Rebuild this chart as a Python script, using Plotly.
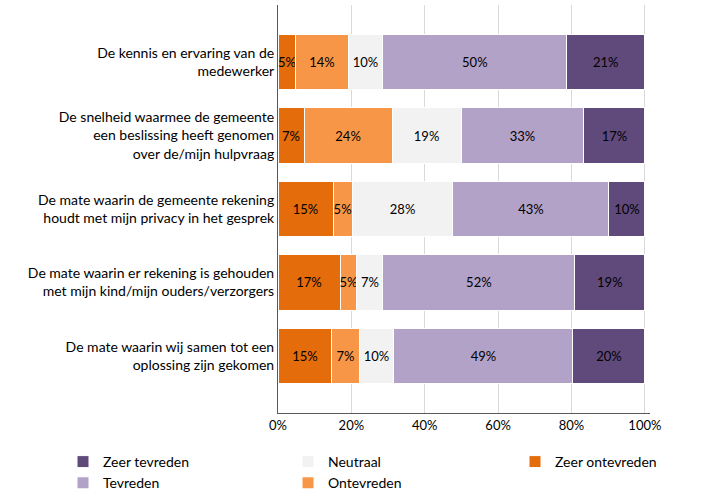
import plotly.graph_objects as go

categories = [
    "De kennis en ervaring van de<br>medewerker",
    "De snelheid waarmee de gemeente<br>een beslissing heeft genomen<br>over de/mijn hulpvraag",
    "De mate waarin de gemeente rekening<br>houdt met mijn privacy in het gesprek",
    "De mate waarin er rekening is gehouden<br>met mijn kind/mijn ouders/verzorgers",
    "De mate waarin wij samen tot een<br>oplossing zijn gekomen",
]

series_names = ["Zeer ontevreden", "Ontevreden", "Neutraal", "Tevreden", "Zeer tevreden"]
zeer_ontevreden = [4.9, 7.1, 15.0, 16.9, 14.7]
ontevreden = [14.2, 24.0, 5.2, 4.6, 7.4]
neutraal = [9.5, 18.8, 27.5, 7.1, 9.5]
tevreden = [50.1, 33.5, 42.5, 52.3, 48.8]
zeer_tevreden = [21.3, 16.6, 9.8, 19.1, 19.6]

labels_zeer_ontevreden = ["5%", "7%", "15%", "17%", "15%"]
labels_ontevreden = ["14%", "24%", "5%", "5%", "7%"]
labels_neutraal = ["10%", "19%", "28%", "7%", "10%"]
labels_tevreden = ["50%", "33%", "43%", "52%", "49%"]
labels_zeer_tevreden = ["21%", "17%", "10%", "19%", "20%"]

x_ticks = [0, 20, 40, 60, 80, 100]

colors = ["#E46C0A", "#F79646", "#F2F2F2", "#B3A2C7", "#604A7B"]
values = [zeer_ontevreden, ontevreden, neutraal, tevreden, zeer_tevreden]
labels = [labels_zeer_ontevreden, labels_ontevreden, labels_neutraal, labels_tevreden, labels_zeer_tevreden]
# legend column and rank for each series
legend_ref = ["legend3", "legend2", "legend2", "legend", "legend"]
ranks = [1, 2, 1, 2, 1]

FONT = "Lato"

fig = go.Figure()
for name, vals, labs, col, lg, rk in zip(series_names, values, labels, colors, legend_ref, ranks):
    fig.add_trace(go.Bar(
        y=categories, x=vals, name=name, orientation="h",
        marker=dict(color=col, line=dict(color="white", width=1)),
        text=labs, textposition="inside", insidetextanchor="middle",
        textangle=0, textfont=dict(color="black", size=13, family=FONT),
        constraintext="none", legend=lg, legendrank=rk,
        hoverinfo="skip",
    ))

leg_common = dict(orientation="v", xanchor="left", yanchor="top",
                  font=dict(family=FONT, size=14, color="black"),
                  bgcolor="rgba(0,0,0,0)", itemwidth=30, tracegroupgap=0,
                  traceorder="normal",
                  yref="container", xref="container")

fig.update_layout(
    width=725, height=500,
    margin=dict(l=278, r=75, t=5, b=87, autoexpand=False),
    paper_bgcolor="white", plot_bgcolor="white",
    barmode="stack", bargap=0.24,
    font=dict(family=FONT, size=13, color="black"),
    uniformtext=dict(minsize=13, mode="show"),
    showlegend=True,
    legend=dict(x=63 / 725, y=1 - 446 / 500, **leg_common),
    legend2=dict(x=288 / 725, y=1 - 446 / 500, **leg_common),
    legend3=dict(x=515 / 725, y=1 - 446 / 500, **leg_common),
    xaxis=dict(range=[0, 101.4], tickvals=x_ticks,
               ticktext=[f"{v}%" for v in x_ticks],
               showgrid=True, gridcolor="#D9D9D9", gridwidth=1,
               zeroline=False, showline=True, linecolor="#595959", linewidth=1,
               ticks="", tickangle=0, automargin=False,
               tickfont=dict(family=FONT, size=13, color="black"),
               fixedrange=True),
    yaxis=dict(type="category", categoryorder="array", categoryarray=categories,
               range=[4.776, -0.776], showline=True, linecolor="#595959", linewidth=1,
               showgrid=False, zeroline=False, ticks="", automargin=False,
               tickfont=dict(family=FONT, size=14, color="black"), fixedrange=True),
)

fig.write_html("out.html")
